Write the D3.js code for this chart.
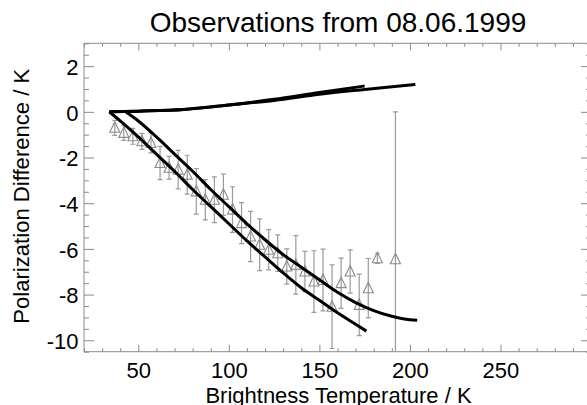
<!DOCTYPE html>
<html>
<head>
<meta charset="utf-8">
<script src="https://cdn.jsdelivr.net/npm/d3@7"></script>
<style>
  body { margin: 0; background: #fff; }
  svg { font-family: "Liberation Sans", Arial, Helvetica, sans-serif; }
</style>
</head>
<body>
<div id="chart"></div>
<script>
// Osservazioni (triangoli con barre d'errore)
const obsT = [37, 42, 47, 52, 57, 62, 67, 72, 77, 82, 87, 92, 97, 102, 107, 112, 117, 122,
    127, 132, 137, 142, 147, 152, 157, 162, 167, 172, 177, 182, 192];
const obsPD = [-0.70, -0.92, -1.07, -1.29, -1.36, -2.24, -2.45, -2.53, -2.75, -3.48, -3.85, -3.85,
    -3.63, -4.28, -4.87, -5.46, -5.82, -6.04, -6.19, -6.77, -6.70, -6.99, -7.43, -7.36, -8.53,
    -7.50, -6.99, -8.45, -7.72, -6.41, -6.45];
const obsErr = [0.33, 0.33, 0.35, 0.35, 0.44, 0.73, 0.50, 0.84, 0.85, 1.00, 0.88, 1.00,
    0.90, 1.00, 0.90, 1.10, 1.13, 0.88, 0.80, 0.77, 1.28, 0.88, 1.35, 1.35, 1.83,
    1.10, 0.95, 1.35, 1.30, 0.22, 6.45];

// Curve del modello
const modA_T = [34, 50, 75, 100, 125, 150, 175];
const modA_PD = [0, 0.03, 0.10, 0.30, 0.55, 0.85, 1.13];
const modB_T = [34, 50, 75, 100, 125, 150, 175, 203];
const modB_PD = [0, 0.03, 0.10, 0.30, 0.50, 0.77, 0.98, 1.20];
const modC_T = [34, 40, 50, 60, 70, 80, 90, 100, 110, 120, 130, 140, 150, 160, 170, 176];
const modC_PD = [0, -0.40, -1.10, -1.85, -2.60, -3.40, -4.15, -4.90, -5.65, -6.35, -7.05,
    -7.70, -8.25, -8.80, -9.30, -9.60];
const modD_T = [43, 50, 60, 70, 80, 90, 100, 110, 120, 130, 140, 150, 160, 170, 180, 190, 200, 204];
const modD_PD = [0, -0.40, -1.10, -1.85, -2.60, -3.40, -4.15, -4.90, -5.60, -6.25, -6.80,
    -7.35, -7.90, -8.35, -8.70, -8.95, -9.10, -9.12];

const xMajor = [50, 100, 150, 200, 250];
const yMajor = [2, 0, -2, -4, -6, -8, -10];

const W = 587, H = 405;
const pLeft = 84, pRight = 591, pTop = 43.3, pBottom = 351.7;

const svg = d3.select("#chart")
    .append("svg")
    .attr("width", W)
    .attr("height", H);

const x = d3.scaleLinear().domain([20, 300]).range([pLeft, pRight]);
const y = d3.scaleLinear().domain([-10.5, 3]).range([pBottom, pTop]);

const axisCol = "#8a8a8a";
const xMinor = d3.range(20, 301, 10).filter(v => xMajor.indexOf(v) < 0);
const yMinor = d3.range(-10.5, 3.01, 0.5).filter(v => yMajor.indexOf(v) < 0);

// Assi: tacche verso l'interno su tutti e quattro i lati
function styleAxis(g) {
    g.select(".domain").remove();
    g.selectAll(".tick line").attr("stroke", axisCol);
    g.selectAll(".tick text").attr("fill", "#000").style("font-size", "22px");
}

// trattino semplice come nell'originale
const fmt = d => String(d);

svg.append("g").attr("transform", `translate(0,${pBottom})`)
    .call(d3.axisBottom(x).tickValues(xMajor).tickSizeInner(-7).tickPadding(10.7).tickFormat(fmt))
    .call(styleAxis);
svg.append("g").attr("transform", `translate(0,${pBottom})`)
    .call(d3.axisBottom(x).tickValues(xMinor).tickSizeInner(-3.5).tickFormat(""))
    .call(styleAxis);
svg.append("g").attr("transform", `translate(0,${pTop})`)
    .call(d3.axisTop(x).tickValues(xMajor).tickSizeInner(-7).tickFormat(""))
    .call(styleAxis);
svg.append("g").attr("transform", `translate(0,${pTop})`)
    .call(d3.axisTop(x).tickValues(xMinor).tickSizeInner(-3.5).tickFormat(""))
    .call(styleAxis);

svg.append("g").attr("transform", `translate(${pLeft},0)`)
    .call(d3.axisLeft(y).tickValues(yMajor).tickSizeInner(-10).tickPadding(5.5).tickFormat(fmt))
    .call(styleAxis)
    .call(g => g.selectAll(".tick text").attr("dy", "0.38em"));
svg.append("g").attr("transform", `translate(${pLeft},0)`)
    .call(d3.axisLeft(y).tickValues(yMinor).tickSizeInner(-5).tickFormat(""))
    .call(styleAxis);
svg.append("g").attr("transform", `translate(${pRight},0)`)
    .call(d3.axisRight(y).tickValues(yMajor).tickSizeInner(-10).tickFormat(""))
    .call(styleAxis);
svg.append("g").attr("transform", `translate(${pRight},0)`)
    .call(d3.axisRight(y).tickValues(yMinor).tickSizeInner(-5).tickFormat(""))
    .call(styleAxis);

// Riquadro
svg.append("rect")
    .attr("x", pLeft).attr("y", pTop)
    .attr("width", pRight - pLeft).attr("height", pBottom - pTop)
    .attr("fill", "none")
    .attr("stroke", axisCol)
    .attr("stroke-width", 1);

svg.append("clipPath").attr("id", "plotClip")
    .append("rect")
    .attr("x", pLeft).attr("y", pTop)
    .attr("width", pRight - pLeft).attr("height", pBottom - pTop);

const plot = svg.append("g").attr("clip-path", "url(#plotClip)");

// Barre d'errore
const obs = obsT.map((t, i) => ({ t: t, pd: obsPD[i], e: obsErr[i] }));
const errCol = "#9a9a9a";
plot.selectAll(".err")
    .data(obs)
    .join("line")
    .attr("x1", d => x(d.t)).attr("x2", d => x(d.t))
    .attr("y1", d => y(d.pd + d.e)).attr("y2", d => y(d.pd - d.e))
    .attr("stroke", errCol)
    .attr("stroke-width", 1.2);
plot.selectAll(".capTop")
    .data(obs)
    .join("line")
    .attr("x1", d => x(d.t) - 2.5).attr("x2", d => x(d.t) + 2.5)
    .attr("y1", d => y(d.pd + d.e)).attr("y2", d => y(d.pd + d.e))
    .attr("stroke", errCol)
    .attr("stroke-width", 1.2);
plot.selectAll(".capBot")
    .data(obs)
    .join("line")
    .attr("x1", d => x(d.t) - 2.5).attr("x2", d => x(d.t) + 2.5)
    .attr("y1", d => y(d.pd - d.e)).attr("y2", d => y(d.pd - d.e))
    .attr("stroke", errCol)
    .attr("stroke-width", 1.2);

// Triangoli
plot.selectAll(".tri")
    .data(obs)
    .join("path")
    .attr("d", d => {
        const cx = x(d.t), cy = y(d.pd);
        return `M${cx},${cy - 6}L${cx + 5},${cy + 4.5}L${cx - 5},${cy + 4.5}Z`;
    })
    .attr("fill", "none")
    .attr("stroke", "#8a8a8a")
    .attr("stroke-width", 1.1);

// Curve del modello
const line = d3.line()
    .x(d => x(d[0]))
    .y(d => y(d[1]))
    .curve(d3.curveMonotoneX);

const models = [
    [modA_T, modA_PD],
    [modB_T, modB_PD],
    [modC_T, modC_PD],
    [modD_T, modD_PD]
];
models.forEach(m => {
    plot.append("path")
        .datum(m[0].map((t, i) => [t, m[1][i]]))
        .attr("d", line)
        .attr("fill", "none")
        .attr("stroke", "#000")
        .attr("stroke-width", 3);
});

// Titolo ed etichette
svg.append("text")
    .attr("x", 338).attr("y", 31.5)
    .attr("text-anchor", "middle")
    .style("font-size", "28px")
    .text("Observations from 08.06.1999");

svg.append("text")
    .attr("x", 338.5).attr("y", 403)
    .attr("text-anchor", "middle")
    .style("font-size", "22px")
    .text("Brightness Temperature / K");

svg.append("text")
    .attr("transform", "translate(28.5,196.2) rotate(-90)")
    .attr("text-anchor", "middle")
    .style("font-size", "22.1px")
    .text("Polarization Difference / K");
</script>
</body>
</html>
